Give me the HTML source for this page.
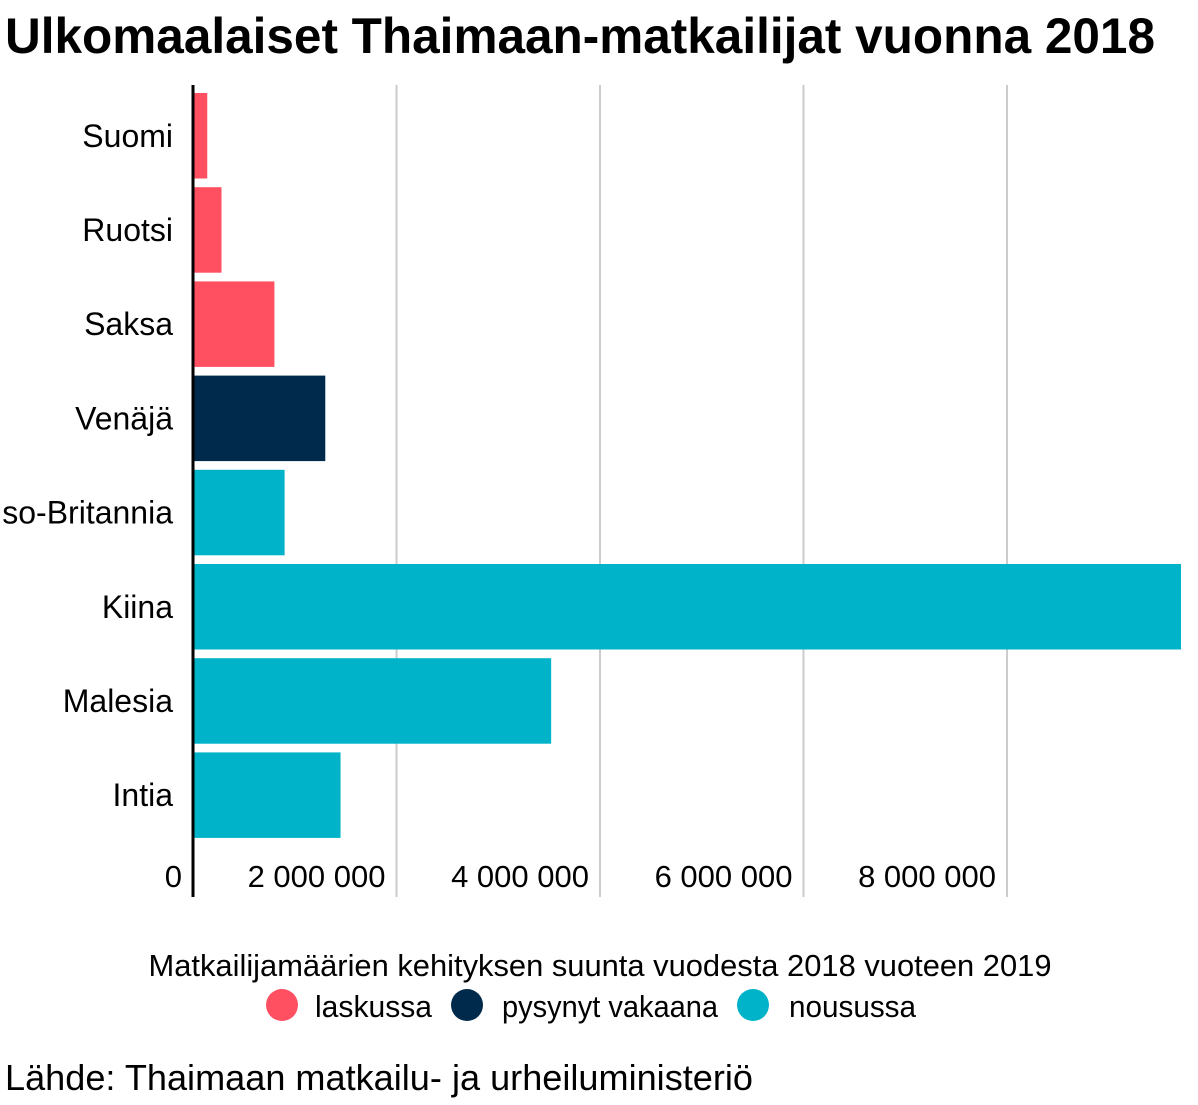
<!DOCTYPE html>
<html><head><meta charset="utf-8"><style>
html,body{margin:0;padding:0;background:#fff}
svg{display:block}
text{font-family:"Liberation Sans Narrow","Liberation Sans",sans-serif;fill:#000}
</style></head><body>
<svg id="chart" width="1198" height="1105" viewBox="0 0 1198 1105" xmlns="http://www.w3.org/2000/svg">
<text x="5" y="53" font-size="50" font-weight="bold" textLength="1150" lengthAdjust="spacingAndGlyphs">Ulkomaalaiset Thaimaan-matkailijat vuonna 2018</text>
<g id="grid"></g>
<g id="bars"></g>
<g id="ylabels"></g>
<g id="xticks"></g>
<line x1="193" y1="85" x2="193" y2="897" stroke="#000" stroke-width="3"/>
<text x="600" y="976" font-size="31" text-anchor="middle" textLength="903" lengthAdjust="spacingAndGlyphs">Matkailijamäärien kehityksen suunta vuodesta 2018 vuoteen 2019</text>
<g><circle cx="282" cy="1005" r="16" fill="#ff5062"/><text x="315" y="1017" font-size="31" textLength="117" lengthAdjust="spacingAndGlyphs">laskussa</text></g>
<g><circle cx="467" cy="1005" r="16" fill="#002a4b"/><text x="502" y="1017" font-size="31" textLength="216" lengthAdjust="spacingAndGlyphs">pysynyt vakaana</text></g>
<g><circle cx="753" cy="1005" r="16" fill="#00b3c9"/><text x="789" y="1017" font-size="31" textLength="127" lengthAdjust="spacingAndGlyphs">nousussa</text></g>
<text x="5" y="1090" font-size="36" textLength="748" lengthAdjust="spacingAndGlyphs">Lähde: Thaimaan matkailu- ja urheiluministeriö</text>
</svg>
<script>
const categories=["Suomi","Ruotsi","Saksa","Venäjä","Iso-Britannia","Kiina","Malesia","Intia"];
const values=[140000,280000,800000,1300000,900000,9710000,3520000,1450000];
const trends=["laskussa","laskussa","laskussa","pysynyt","nousussa","nousussa","nousussa","nousussa"];
const tickValues=[0,2000000,4000000,6000000,8000000];
const tickLabels=["0","2 000 000","4 000 000","6 000 000","8 000 000"];
const colors={laskussa:"#ff5062",pysynyt:"#002a4b",nousussa:"#00b3c9"};
const NS="http://www.w3.org/2000/svg";
const x0=193,pxPer=(1007-193)/8000000;
const x=v=>x0+v*pxPer;
const top0=93,step=94.2,bh=85.5;
const y=i=>top0+i*step;
const grid=document.getElementById('grid'),bars=document.getElementById('bars'),yl=document.getElementById('ylabels'),xt=document.getElementById('xticks');
tickValues.forEach((t,i)=>{
 if(t>0){const l=document.createElementNS(NS,'line');
 
 
 l.setAttribute('x1',x(t));l.setAttribute('x2',x(t));l.setAttribute('y1',85);l.setAttribute('y2',897);
 l.setAttribute('stroke','#cccccc');l.setAttribute('stroke-width','2');grid.appendChild(l);}
 const tx=document.createElementNS(NS,'text');
 
 
 tx.setAttribute('x',x(t)-11);tx.setAttribute('y',887);tx.setAttribute('font-size','31');tx.setAttribute('text-anchor','end');
 tx.textContent=tickLabels[i];xt.appendChild(tx);
});
categories.forEach((c,i)=>{
 const r=document.createElementNS(NS,'rect');
 
 
 r.setAttribute('x',x0);r.setAttribute('y',y(i));r.setAttribute('width',x(values[i])-x0);r.setAttribute('height',bh);
 r.setAttribute('fill',colors[trends[i]]);bars.appendChild(r);
 const t=document.createElementNS(NS,'text');
 
 
 t.setAttribute('x',173);t.setAttribute('y',y(i)+bh/2+11);t.setAttribute('font-size','32');t.setAttribute('text-anchor','end');
 t.textContent=c;yl.appendChild(t);
});
</script>
</body></html>
